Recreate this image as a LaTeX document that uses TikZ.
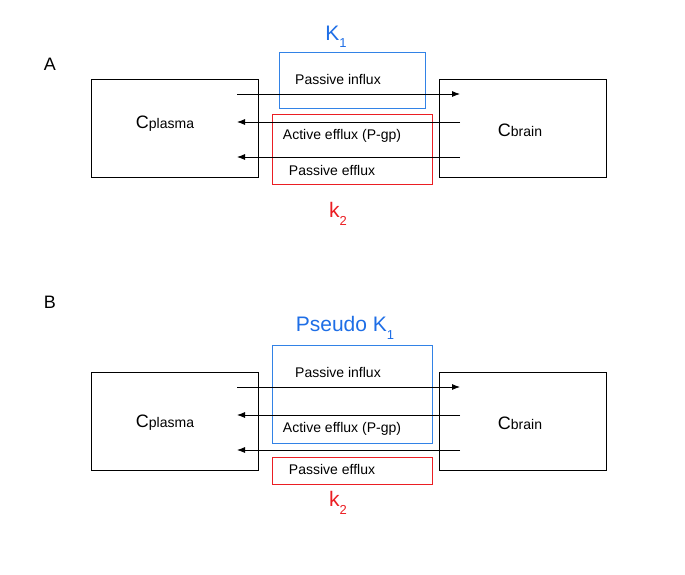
\documentclass[tikz,border=0pt]{standalone}
\usepackage{fontspec}
\setmainfont{Liberation Sans}
\usetikzlibrary{arrows.meta}
\definecolor{kblue}{RGB}{30,110,230}
\definecolor{kboxblue}{RGB}{50,130,230}
\definecolor{kred}{RGB}{235,30,35}
\newcommand\ksub[1]{\raisebox{-0.35em}{\fontsize{13}{13}\selectfont #1}}
\tikzset{
  pool/.style={draw, line width=0.8pt, minimum width=167pt, minimum height=98pt, inner sep=0pt},
  kbox/.style={draw=#1, line width=1pt, inner sep=0pt},
  ktext/.style={text=#1, inner sep=0pt, font=\fontsize{21}{24}\selectfont},
  fluxtext/.style={inner sep=0pt, font=\fontsize{14}{16}\selectfont},
  flux/.style={-{Latex[length=8pt,width=6pt]}, line width=0.8pt},
  panel/.style={inner sep=0pt, font=\fontsize{18}{20}\selectfont}
}
\begin{document}
\begin{tikzpicture}[x=1pt,y=-1pt]
\useasboundingbox (0,0) rectangle (685,574);
% rate boxes of panel A
\node[kbox=kboxblue, minimum width=146pt, minimum height=56pt] (kinA) at (352,80) {};
\node[kbox=kred, minimum width=160pt, minimum height=70pt] (koutA) at (352,149) {};
\node[ktext=kblue] (K1A) at (336,37) {K\ksub{1}};
\node[ktext=kred] (k2A) at (338,214) {k\ksub{2}};
% rate boxes of panel B
\node[kbox=kboxblue, minimum width=160pt, minimum height=98pt] (kinB) at (352,394) {};
\node[kbox=kred, minimum width=160pt, minimum height=27pt] (koutB) at (352,470.5) {};
\node[ktext=kblue] (K1B) at (345,328) {Pseudo K\ksub{1}};
\node[ktext=kred] (k2B) at (338,503) {k\ksub{2}};
% what both panels share
\foreach \p/\dy/\yl/\yp/\yb/\ye in {A/0/64/124/130/170,B/293/302/423/423/469} {
    \node[panel] (label\p) at (50,\yl) {\p};
    \node[pool] (plasma\p) at (174.5,128+\dy) {};
    \node[pool] (brain\p) at (523,128+\dy) {};
    \node[inner sep=0pt] (cp\p) at (165,\yp) {{\fontsize{18}{20}\selectfont C}{\fontsize{14}{16}\selectfont plasma}};
    \node[inner sep=0pt] (cb\p) at (520,\yb) {{\fontsize{18}{20}\selectfont C}{\fontsize{14}{16}\selectfont brain}};
    \node[fluxtext] (tin\p) at (338,79+\dy) {Passive influx};
    \node[fluxtext] (tact\p) at (342,136+\dy) {Active efflux (P-gp)};
    \node[fluxtext] (tout\p) at (332,\ye) {Passive efflux};
    % arrow ends
    \coordinate (inP\p) at (237,94+\dy);
    \coordinate (inB\p) at (460,94+\dy);
    \coordinate (actB\p) at (460,122+\dy);
    \coordinate (actP\p) at (237,122+\dy);
    \coordinate (outB\p) at (460,157+\dy);
    \coordinate (outP\p) at (237,157+\dy);
    \draw[flux] (inP\p) -- (inB\p);
    \draw[flux] (actB\p) -- (actP\p);
    \draw[flux] (outB\p) -- (outP\p);
}
\end{tikzpicture}
\end{document}
